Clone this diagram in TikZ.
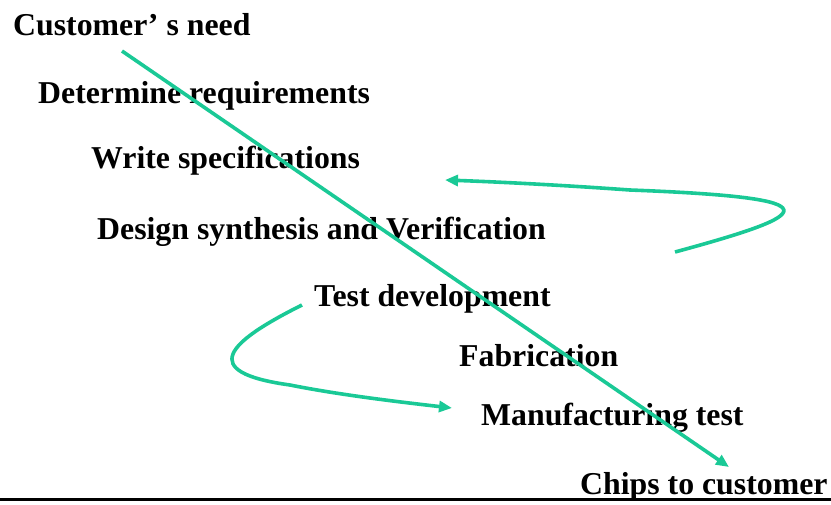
\documentclass[tikz,border=0pt]{standalone}
\usepackage{fontspec}
\setmainfont{Liberation Serif}
\usetikzlibrary{arrows.meta}
\definecolor{flowgreen}{RGB}{26,201,150}
\begin{document}
\begin{tikzpicture}[x=1pt,y=-1pt,
  stage/.style={anchor=base west,inner sep=0pt,font=\fontsize{31.8}{31.8}\selectfont\bfseries},
  flow/.style={draw=flowgreen,line width=3.6pt,-{Triangle[length=13pt,width=11pt]}}]
\useasboundingbox (0,0) rectangle (831,504);
% stage labels
\node[stage] (need)  at (13,35)  {Customer’ s need};
\node[stage] (req)   at (38,103) {Determine requirements};
\node[stage] (spec)  at (91,168) {Write specifications};
\node[stage] (dsv)   at (97,239) {Design synthesis and Verification};
\node[stage] (test)  at (314,306) {Test development};
\node[stage] (fab)   at (459,366) {Fabrication};
\node[stage] (mtest) at (481,425) {Manufacturing test};
\node[stage] (chips) at (580,494) {Chips to customer};
% end points of the flow arrows
\coordinate (flowstart) at (122,51);
\coordinate (flowend)   at (729,467);
\coordinate (loopa)     at (675,252);
\coordinate (loopaend)  at (445,180);
\coordinate (loopb)     at (302,305);
\coordinate (loopbend)  at (452,408);
% main flow
\draw[flow] (flowstart) -- (flowend);
% feedback loop back to specifications
\draw[flow] (loopa) .. controls (815,214) and (840,198) .. (630,190)
  .. controls (560,185) and (500,182) .. (loopaend);
% loop from test development to manufacturing test
\draw[flow] (loopb) .. controls (228,342) and (196,372) .. (290,385)
  .. controls (340,395) and (400,402) .. (loopbend);
% base rule
\draw[line width=3pt] (0,499.5) -- (831,499.5);
\end{tikzpicture}
\end{document}
